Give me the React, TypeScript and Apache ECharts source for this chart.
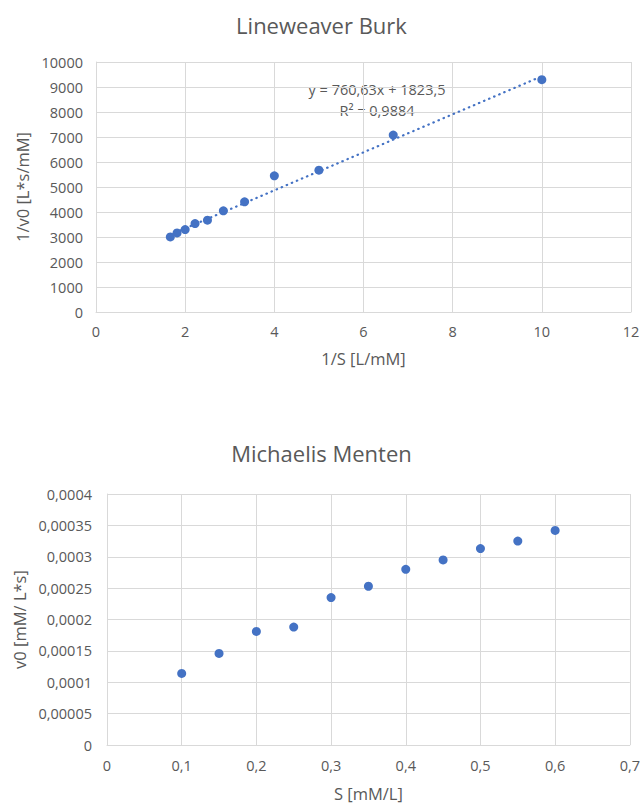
import React, { useEffect, useRef } from "react";
import * as echarts from "echarts";

// Lineweaver-Burk data
const lbX = [1.667, 1.818, 2.0, 2.222, 2.5, 2.857, 3.333, 4.0, 5.0, 6.667, 10.0];
const lbY = [3004, 3164, 3298, 3538, 3672, 4045, 4406, 5447, 5674, 7076, 9292];
const trendSlope = 760.63;
const trendIntercept = 1823.5;
const trendLabel1 = "y = 760,63x + 1823,5";
const trendLabel2 = "R² = 0,9884";

// Michaelis-Menten data
const mmS = [0.1, 0.15, 0.2, 0.25, 0.3, 0.35, 0.4, 0.45, 0.5, 0.55, 0.6];
const mmV = [0.000114, 0.000146, 0.000181, 0.000188, 0.000235, 0.000253, 0.00028, 0.000295, 0.000313, 0.000325, 0.000342];

const FONT = "Open Sans";
const GRAY = "#595959";
const GRID = "#d9d9d9";
const BLUE = "#4472C4";

const comma = (v: number) => String(v).replace(".", ",");

export default function App() {
  const ref = useRef<HTMLDivElement>(null);
  useEffect(() => {
    document.body.style.margin = "0";
    const chart = echarts.init(ref.current!, null, { renderer: "svg" });
    const xMin = Math.min(...lbX);
    const xMax = Math.max(...lbX);
    const axisCommon = {
      axisLine: { show: true, lineStyle: { color: GRID, width: 1 } },
      axisTick: { show: false },
      splitLine: { show: true, lineStyle: { color: GRID, width: 1 } },
      nameTextStyle: { color: GRAY, fontFamily: FONT, fontSize: 16.5 },
    };
    const labelCommon = { color: GRAY, fontFamily: FONT, fontSize: 14.5 };
    chart.setOption({
      animation: false,
      backgroundColor: "#ffffff",
      title: [
        {
          text: "Lineweaver Burk",
          left: "center",
          top: 9,
          textStyle: { color: GRAY, fontFamily: FONT, fontSize: 22, fontWeight: "normal" },
        },
        {
          text: "Michaelis Menten",
          left: "center",
          top: 437,
          textStyle: { color: GRAY, fontFamily: FONT, fontSize: 22, fontWeight: "normal" },
        },
      ],
      grid: [
        { left: 96, right: 12, top: 62, height: 250 },
        { left: 107, right: 12, top: 494, height: 251 },
      ],
      xAxis: [
        {
          ...axisCommon,
          gridIndex: 0,
          type: "value",
          min: 0,
          max: 12,
          interval: 2,
          name: "1/S [L/mM]",
          nameLocation: "middle",
          nameGap: 38,
          axisLabel: { ...labelCommon, margin: 12, formatter: comma },
        },
        {
          ...axisCommon,
          gridIndex: 1,
          type: "value",
          min: 0,
          max: 0.7,
          interval: 0.1,
          name: "S [mM/L]",
          nameLocation: "middle",
          nameGap: 40,
          axisLabel: { ...labelCommon, margin: 13, formatter: comma },
        },
      ],
      yAxis: [
        {
          ...axisCommon,
          gridIndex: 0,
          type: "value",
          min: 0,
          max: 10000,
          interval: 1000,
          name: "1/v0 [L*s/mM]",
          nameLocation: "middle",
          nameGap: 64,
          axisLabel: { ...labelCommon, margin: 13, formatter: comma },
        },
        {
          ...axisCommon,
          gridIndex: 1,
          type: "value",
          min: 0,
          max: 0.0004,
          interval: 0.00005,
          name: "v0 [mM/ L*s]",
          nameLocation: "middle",
          nameGap: 75,
          axisLabel: { ...labelCommon, margin: 15, formatter: comma },
        },
      ],
      series: [
        {
          type: "line",
          xAxisIndex: 0,
          yAxisIndex: 0,
          data: [
            [xMin, trendSlope * xMin + trendIntercept],
            [xMax, trendSlope * xMax + trendIntercept],
          ],
          showSymbol: false,
          symbol: "none",
          lineStyle: { color: BLUE, width: 2.2, type: [0.5, 5], cap: "round" },
          z: 1,
        },
        {
          type: "scatter",
          xAxisIndex: 0,
          yAxisIndex: 0,
          data: lbX.map((x, i) => [x, lbY[i]]),
          symbolSize: 9,
          itemStyle: { color: BLUE, opacity: 1 },
          z: 2,
        },
        {
          type: "scatter",
          xAxisIndex: 1,
          yAxisIndex: 1,
          data: mmS.map((x, i) => [x, mmV[i]]),
          symbolSize: 9,
          itemStyle: { color: BLUE, opacity: 1 },
          z: 2,
        },
      ],
      graphic: [
        {
          type: "text",
          x: 377,
          y: 89,
          style: {
            text: trendLabel1,
            fill: GRAY,
            font: `14.5px "${FONT}"`,
            textAlign: "center",
            textVerticalAlign: "middle",
          },
        },
        {
          type: "text",
          x: 377,
          y: 110,
          style: {
            text: trendLabel2,
            fill: GRAY,
            font: `14.5px "${FONT}"`,
            textAlign: "center",
            textVerticalAlign: "middle",
          },
        },
      ],
    });
    return () => chart.dispose();
  }, []);
  return <div ref={ref} style={{ width: 643, height: 804 }} />;
}
